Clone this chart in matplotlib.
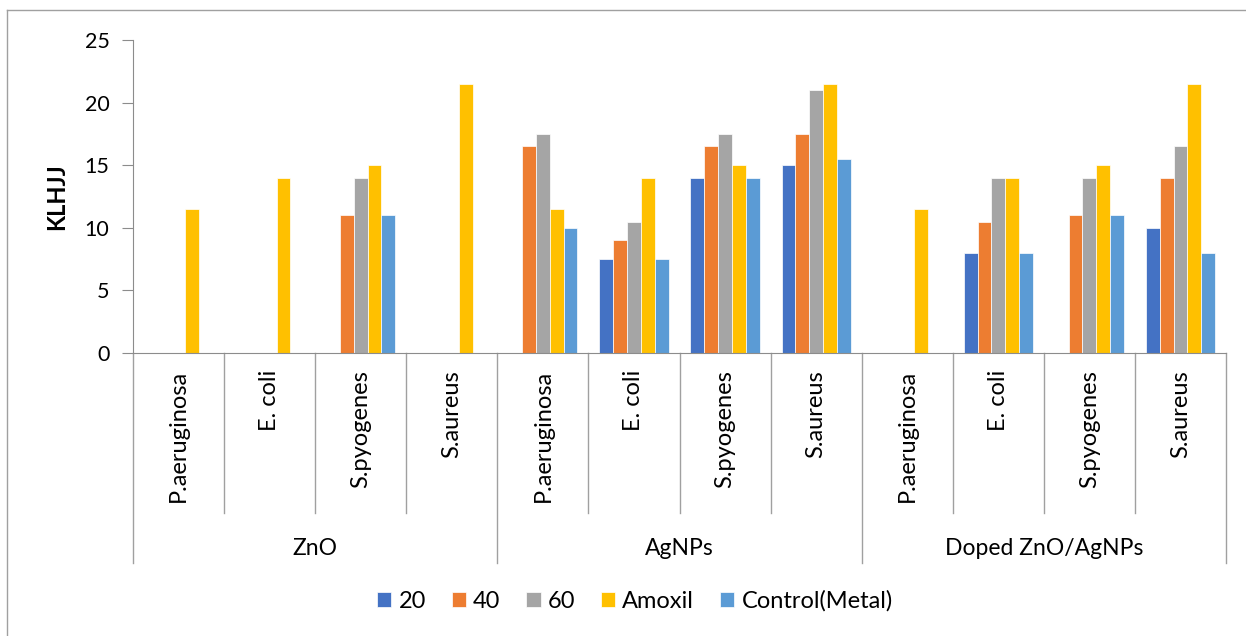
import matplotlib.pyplot as plt
import numpy as np
from matplotlib.lines import Line2D

plt.rcParams['font.family'] = ['Lato', 'DejaVu Sans']

groups = ["ZnO", "AgNPs", "Doped ZnO/AgNPs"]
bacteria = ["P.aeruginosa", "E. coli", "S.pyogenes", "S.aureus"]
series_names = ["20", "40", "60", "Amoxil", "Control(Metal)"]
colors = ["#4472C4", "#ED7D31", "#A5A5A5", "#FFC000", "#5B9BD5"]

s20 = [0, 0, 0, 0, 0, 7.5, 14, 15, 0, 8, 0, 10]
s40 = [0, 0, 11, 0, 16.5, 9, 16.5, 17.5, 0, 10.5, 11, 14]
s60 = [0, 0, 14, 0, 17.5, 10.5, 17.5, 21, 0, 14, 14, 16.5]
amoxil = [11.5, 14, 15, 21.5, 11.5, 14, 15, 21.5, 11.5, 14, 15, 21.5]
control = [0, 0, 11, 0, 10, 7.5, 14, 15.5, 0, 8, 11, 8]
values = [s20, s40, s60, amoxil, control]

W, H = 1246, 636
fig = plt.figure(figsize=(W / 100, H / 100), dpi=100)


def fx(px):
    return px / W


def fy(py):
    return 1 - py / H


ax = fig.add_axes([fx(133), fy(353), fx(1226) - fx(133), fy(40) - fy(353)])

n = len(s20)
x = np.arange(n) + 0.5
bw = 0.152
for k, (vals, name, c) in enumerate(zip(values, series_names, colors)):
    ax.bar(x + (k - 2) * bw, vals, bw, color=c, label=name,
           edgecolor="white", linewidth=0.5)

ax.set_xlim(0, n)
ax.set_ylim(0, 25)
ax.set_yticks([0, 5, 10, 15, 20, 25])
ax.tick_params(axis="y", labelsize=15.5, length=8, color="#8c8c8c", pad=9)
ax.set_xticks([])
for s in ["top", "right"]:
    ax.spines[s].set_visible(False)
ax.spines["left"].set_color("#8c8c8c")
ax.spines["bottom"].set_color("#8c8c8c")
ax.set_ylabel("KLHJJ", fontsize=17, fontweight="bold")
ax.yaxis.set_label_coords((68 - 133) / (1226 - 133), 0.5)

# multi-level category axis
trans = ax.get_xaxis_transform()
for i in range(n + 1):
    bottom = -0.67 if i % 4 == 0 else -0.51
    ax.add_line(Line2D([i, i], [0, bottom], transform=trans, color="#a0a0a0",
                       linewidth=1, clip_on=False))
for i in range(n):
    ax.text(x[i], -0.055, bacteria[i % 4], transform=trans, rotation=90,
            ha="center", va="top", fontsize=17)
for g, name in enumerate(groups):
    ax.text(g * 4 + 2, -0.625, name, transform=trans, ha="center",
            va="center", fontsize=16.5)

# chart border (top and left visible)
fig.add_artist(Line2D([fx(7), 1], [fy(10), fy(10)], color="#a0a0a0", linewidth=1))
fig.add_artist(Line2D([fx(7), fx(7)], [fy(10), 0], color="#a0a0a0", linewidth=1))

fig.legend(loc="center", bbox_to_anchor=(fx(635), fy(601)), ncol=5,
           frameon=False, fontsize=17, handlelength=0.6, handleheight=0.6,
           handletextpad=0.3, columnspacing=1.1)

fig.savefig("out.png", dpi=100)
